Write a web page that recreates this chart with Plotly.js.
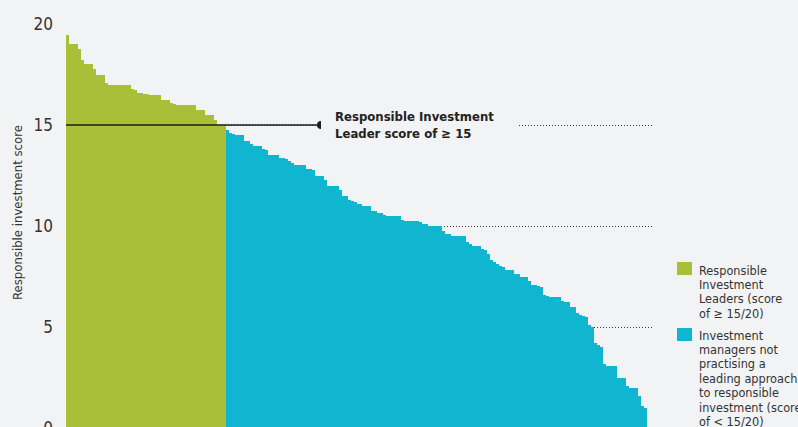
<!DOCTYPE html>
<html>
<head>
<meta charset="utf-8">
<script src="https://cdn.plot.ly/plotly-3.0.1.min.js"></script>
<style>
  html, body { margin: 0; padding: 0; overflow: hidden; background: #f2f3f5; }
  #chart { width: 798px; height: 440px; }
</style>
</head>
<body>
<div id="chart"></div>
<script>
// ---- data ----
const leaderScores = [
  19.45,
  19.0, 19.0, 19.0,
  18.75,
  18.2,
  18.0, 18.0, 18.0,
  17.75,
  17.5, 17.5, 17.5,
  17.1,
  17.0, 17.0, 17.0, 17.0, 17.0, 17.0, 17.0, 17.0,
  16.8,
  16.75,
  16.6, 16.6,
  16.55, 16.55,
  16.5, 16.5, 16.5, 16.5,
  16.25, 16.25, 16.25,
  16.1,
  16.05,
  16.0, 16.0, 16.0, 16.0, 16.0, 16.0, 16.0,
  15.75, 15.75, 15.75,
  15.5, 15.5, 15.5,
  15.25,
  15.0, 15.0, 15.0
];
const otherScores = [
  14.75, 14.6, 14.55, 14.5, 14.5, 14.5,
  14.2, 14.2,
  14.05,
  13.95, 13.95, 13.95,
  13.8, 13.75,
  13.5, 13.5, 13.5, 13.5,
  13.35, 13.35,
  13.3, 13.2, 13.1,
  13.0, 13.0, 13.0, 13.0,
  12.8, 12.8,
  12.75,
  12.5, 12.5, 12.5,
  12.3,
  12.0, 12.0, 12.0, 12.0,
  11.8,
  11.5, 11.5,
  11.3, 11.25, 11.2,
  11.1, 11.1,
  11.0, 11.0, 11.0,
  10.75, 10.75,
  10.65, 10.65,
  10.55,
  10.5, 10.5, 10.5, 10.5, 10.5,
  10.3,
  10.25, 10.25, 10.25, 10.25, 10.25,
  10.2,
  10.1, 10.1,
  10.0, 10.0, 10.0, 10.0, 10.0,
  9.75,
  9.6, 9.6,
  9.5, 9.5, 9.5, 9.5, 9.5,
  9.2, 9.1,
  9.0, 9.0, 9.0,
  8.85,
  8.8,
  8.6, 8.3, 8.2, 8.1, 8.0, 7.95,
  7.8, 7.8, 7.8,
  7.6, 7.6,
  7.5, 7.5, 7.5,
  7.3,
  7.1, 7.1,
  7.05, 7.0,
  6.6, 6.55,
  6.5, 6.5, 6.5, 6.5,
  6.3,
  6.25, 6.25,
  6.0, 6.0,
  5.7, 5.6, 5.55, 5.5,
  5.1, 5.0,
  4.2, 4.1, 4.0,
  3.15,
  3.05, 3.05, 3.05, 3.05,
  2.5, 2.5, 2.5,
  2.1,
  2.0, 2.0, 2.0,
  1.6, 1.1, 1.0
];
const yTicks = [0, 5, 10, 15, 20];
const leaderThreshold = 15;
const seriesNames = [
  "Responsible Investment Leaders (score of ≥ 15/20)",
  "Investment managers not practising a leading approach to responsible investment (score of < 15/20)"
];
const legendLines1 = ["Responsible", "Investment", "Leaders (score", "of ≥ 15/20)"];
const legendLines2 = ["Investment", "managers not", "practising a", "leading approach", "to responsible", "investment (score", "of < 15/20)"];
const calloutText = "<b>Responsible Investment<br>Leader score of ≥ 15</b>";
const yTitle = "Responsible investment score";

// ---- layout helpers ----
const FONT = '"Liberation Sans Narrow", "Arial Narrow", "DejaVu Sans Condensed", "Roboto Condensed", sans-serif';
const BG = '#f2f3f5';
const GREEN = '#a9bf38';
const BLUE = '#10b5cf';
const ML = 66, PW = 586, MT = 24, PH = 404, H = 440, W = 798;
const px2x = p => (p - ML) / PW;          // pixel -> paper x
const px2y = p => (MT + PH - p) / PH;      // pixel -> paper y

const xLead = leaderScores.map((_, i) => i);
const xOther = otherScores.map((_, i) => i + leaderScores.length);
const nBars = leaderScores.length + otherScores.length;
const barPx = 581 / nBars;

const traces = [
  { type: 'bar', x: xLead, y: leaderScores, name: seriesNames[0],
    marker: { color: GREEN, line: { width: 0 } }, showlegend: false, hoverinfo: 'y' },
  { type: 'bar', x: xOther, y: otherScores, name: seriesNames[1],
    marker: { color: BLUE, line: { width: 0 } }, showlegend: false, hoverinfo: 'y' }
];

const lineEnd = px2x(321);
const shapes = [
  { type: 'line', xref: 'paper', yref: 'y', x0: 0, x1: lineEnd, y0: leaderThreshold, y1: leaderThreshold,
    line: { color: '#1e1e1e', width: 1.5 }, layer: 'above' },
  { type: 'circle', xref: 'paper', yref: 'y', xsizemode: 'pixel', ysizemode: 'pixel',
    xanchor: lineEnd, yanchor: leaderThreshold, x0: -4, x1: 4, y0: -4, y1: 4,
    fillcolor: '#1e1e1e', line: { width: 0 }, layer: 'above' },
  { type: 'rect', xref: 'paper', yref: 'paper',
    x0: px2x(677), x1: px2x(692), y0: px2y(275), y1: px2y(262),
    fillcolor: GREEN, line: { width: 0 } },
  { type: 'rect', xref: 'paper', yref: 'paper',
    x0: px2x(677), x1: px2x(692), y0: px2y(341), y1: px2y(328),
    fillcolor: BLUE, line: { width: 0 } }
];

const annotations = [
  { xref: 'paper', yref: 'y', x: lineEnd, y: leaderThreshold, xanchor: 'left', yanchor: 'middle',
    text: calloutText, showarrow: false, align: 'left', width: 169, borderpad: 14, borderwidth: 0,
    bgcolor: BG, font: { family: FONT, size: 13, color: '#222' } },
  { xref: 'paper', yref: 'paper', x: px2x(17), y: px2y(213), textangle: -90,
    text: yTitle, showarrow: false, xanchor: 'center', yanchor: 'middle',
    font: { family: FONT, size: 13, color: '#333' } }
];
const LS = 14.4;
legendLines1.forEach((t, i) => annotations.push({
  xref: 'paper', yref: 'paper', x: px2x(697), y: px2y(270 + i * LS), xanchor: 'left', yanchor: 'middle',
  text: t, showarrow: false, font: { family: FONT, size: 12.6, color: '#333' }
}));
legendLines2.forEach((t, i) => annotations.push({
  xref: 'paper', yref: 'paper', x: px2x(697), y: px2y(335 + i * LS), xanchor: 'left', yanchor: 'middle',
  text: t, showarrow: false, font: { family: FONT, size: 12.6, color: '#333' }
}));

const layout = {
  width: W, height: H,
  margin: { l: ML, r: W - ML - PW, t: MT, b: H - MT - PH, pad: 0 },
  paper_bgcolor: BG, plot_bgcolor: BG,
  bargap: 0, barmode: 'overlay',
  showlegend: false,
  xaxis: { range: [-0.5, -0.5 + PW / barPx], visible: false, fixedrange: true },
  yaxis: {
    range: [0, 20], tickvals: yTicks, ticktext: yTicks.map(String),
    showgrid: true, gridcolor: '#3a3a3a', gridwidth: 1, griddash: '1px,2px',
    zeroline: false, showline: false, ticks: '', ticklabelstandoff: 12,
    tickfont: { family: FONT, size: 17, color: '#333' }, fixedrange: true
  },
  shapes: shapes,
  annotations: annotations,
  font: { family: FONT }
};

Plotly.newPlot('chart', traces, layout, { displayModeBar: false, staticPlot: true });
</script>
</body>
</html>
